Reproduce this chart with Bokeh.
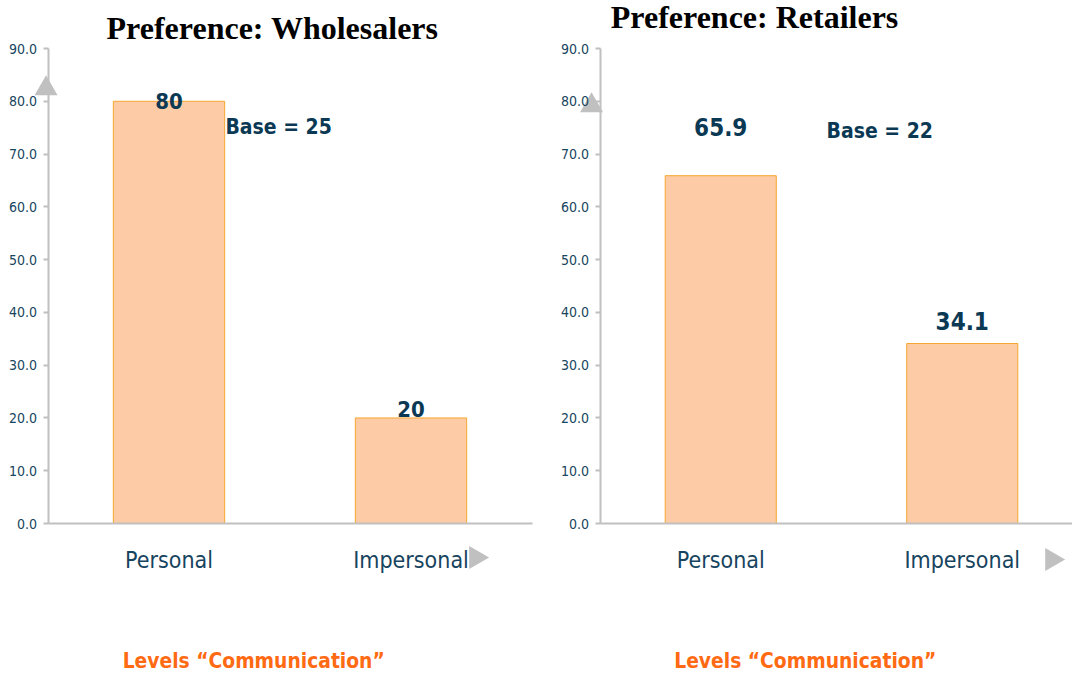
import math
from bokeh.plotting import figure
from bokeh.layouts import row
from bokeh.models import Range1d, FixedTicker, NumeralTickFormatter, ColumnDataSource
from bokeh.core.properties import value
from bokeh.embed import file_html
from bokeh.resources import INLINE

# ---------------- data ----------------
categories = ["Personal", "Impersonal"]
wholesalers = [80.0, 20.0]
retailers = [65.9, 34.1]
wholesalers_text = ["80", "20"]
retailers_text = ["65.9", "34.1"]
wholesalers_base = "Base = 25"
retailers_base = "Base = 22"
y_ticks = [0, 10, 20, 30, 40, 50, 60, 70, 80, 90]
titles = ["Preference: Wholesalers", "Preference: Retailers"]
x_title = "Levels \u201cCommunication\u201d"

# ---------------- styles ----------------
SANS = "DejaVu Sans Condensed"
SERIF = "Liberation Serif"
AXIS_GREY = "#C0C0C0"
TICK_TEXT = "#17445E"
VALUE_TEXT = "#0B3954"
BAR_FILL = "#FDCBA5"
BAR_LINE = "#F6A630"
ORANGE = "#FF6A13"
HEIGHT = 672
PX_PER_Y = 475 / 90.0
Y_ZERO_PX = 523


def make_panel(vals, texts, text_offsets, text_size, base_text, base_pos,
               title, title_pos, width, axis_px, px_per_x, x_axis_end,
               yarrow, xarrow):
    x_start = -0.5 - axis_px / px_per_x
    x_end = x_start + width / px_per_x
    y_end = Y_ZERO_PX / PX_PER_Y
    y_start = -(HEIGHT - Y_ZERO_PX) / PX_PER_Y
    p = figure(width=width, height=HEIGHT, output_backend="svg", toolbar_location=None,
               x_range=Range1d(x_start, x_end), y_range=Range1d(y_start, y_end),
               min_border=0)
    p.title.visible = False
    p.outline_line_color = None
    p.grid.visible = False
    p.background_fill_color = "white"
    p.border_fill_color = "white"

    xs = list(range(len(categories)))
    src = ColumnDataSource(dict(x=xs, top=vals, txt=texts, off=text_offsets))
    p.vbar(x="x", top="top", width=0.46, source=src, fill_color=BAR_FILL,
           line_color=BAR_LINE, line_width=1)
    p.text(x="x", y="top", text="txt", y_offset="off", source=src,
           text_align="center", text_baseline="middle",
           text_font=value(SANS), text_font_style="bold",
           text_font_size=text_size, text_color=VALUE_TEXT)

    # axes placed at the chart's own origin
    ya = p.yaxis[0]
    ya.fixed_location = -0.5
    ya.bounds = (0, 90)
    ya.ticker = FixedTicker(ticks=y_ticks)
    ya.formatter = NumeralTickFormatter(format="0.0")
    ya.axis_line_color = AXIS_GREY
    ya.axis_line_width = 2
    ya.major_tick_line_color = AXIS_GREY
    ya.major_tick_line_width = 2
    ya.major_tick_out = 5
    ya.major_tick_in = 0
    ya.minor_tick_line_color = None
    ya.major_label_standoff = 6
    ya.major_label_text_font = SANS
    ya.major_label_text_font_size = "14px"
    ya.major_label_text_color = TICK_TEXT

    xa = p.xaxis[0]
    xa.fixed_location = 0
    xa.bounds = (-0.5, x_axis_end)
    xa.ticker = FixedTicker(ticks=xs)
    xa.major_label_overrides = {i: c for i, c in enumerate(categories)}
    xa.axis_line_color = AXIS_GREY
    xa.axis_line_width = 2
    xa.major_tick_line_color = None
    xa.minor_tick_line_color = None
    xa.major_label_standoff = 17
    xa.major_label_text_font = SANS
    xa.major_label_text_font_size = "23px"
    xa.major_label_text_color = TICK_TEXT

    # texts
    p.text(x=[base_pos[0]], y=[base_pos[1]], text=[base_text],
           text_align="left", text_baseline="middle",
           text_font=value(SANS), text_font_style="bold",
           text_font_size="21px", text_color=VALUE_TEXT)
    p.text(x=[title_pos[0]], y=[title_pos[1]], text=[title],
           text_align="center", text_baseline="alphabetic",
           text_font=value(SERIF), text_font_style="bold",
           text_font_size="32px", text_color="black")
    p.text(x=[0.35], y=[-26.1], text=[x_title],
           text_align="center", text_baseline="middle",
           text_font=value(SANS), text_font_style="bold",
           text_font_size="20.8px", text_color=ORANGE)

    # axis arrow heads
    p.scatter(x=[yarrow[0]], y=[yarrow[1]], marker="triangle", size=23,
              fill_color=AXIS_GREY, line_color=None)
    p.scatter(x=[xarrow[0]], y=[xarrow[1]], marker="triangle", size=23,
              angle=-math.pi / 2, fill_color=AXIS_GREY, line_color=None)
    return p


p1 = make_panel(wholesalers, wholesalers_text, [0, -9], "22px", wholesalers_base,
                (0.233, 75.2), titles[0], (0.428, 93.9), 560, 47.5, 242.0, 1.5,
                (-0.508, 82.4), (1.268, -6.44))
p2 = make_panel(retailers, retailers_text, [-49, -23], "24px", retailers_base,
                (0.438, 74.3), titles[1], (0.14, 95.9), 512, 39.5, 241.5, 2.0,
                (-0.535, 79.2), (1.371, -6.82))

layout = row(p1, p2)
open("out.html", "w").write(file_html(layout, INLINE))
